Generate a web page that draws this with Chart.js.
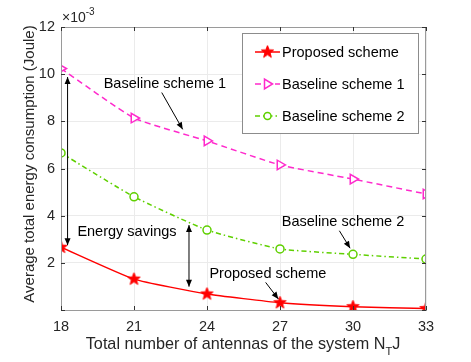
<!DOCTYPE html>
<html>
<head>
<meta charset="utf-8">
<script src="https://cdn.jsdelivr.net/npm/chart.js@4/dist/chart.umd.min.js"></script>
<style>
  html, body { margin: 0; padding: 0; background: #fff; }
  #wrap { width: 471px; height: 362px; }
</style>
</head>
<body>
<div id="wrap"><canvas id="energyChart" width="471" height="362"></canvas></div>
<script>
// Datos (unidades x10^-3 J)
const antennas = [18, 21, 24, 27, 30, 33];
const proposed = [2.66, 1.31, 0.68, 0.31, 0.14, 0.06];
const baseline1 = [10.24, 8.14, 7.17, 6.15, 5.55, 4.92];
const baseline2 = [6.66, 4.80, 3.39, 2.59, 2.36, 2.16];
const seriesNames = ['Proposed scheme', 'Baseline scheme 1', 'Baseline scheme 2'];
const yTicks = [0, 2, 4, 6, 8, 10, 12];

const FONT = '"Liberation Sans", Arial, Helvetica, sans-serif';
const TXT = '#262626';
const RED = '#ff0000';
const MAG = '#ff2acc';
const GRN = '#5fd000';

// Anotaciones (coordenadas en unidades de datos)
const notes = [
    { text: 'Baseline scheme 1', x: 22.27, y: 9.58, from: [22.14, 9.22], to: [23.0, 7.66] },
    { text: 'Baseline scheme 2', x: 29.59, y: 3.74, from: [29.44, 3.36], to: [29.88, 2.62] },
    { text: 'Proposed scheme', x: 26.5, y: 1.53, from: [26.41, 1.17], to: [26.93, 0.47] },
    { text: 'Energy savings', x: 20.71, y: 3.3 }
];
const doubleArrows = [
    { x: 18.27, y1: 9.88, y2: 2.75 },
    { x: 23.26, y1: 3.6, y2: 0.99 }
];

// Estrella de cinco puntas para el marcador
function makeStar(size, color) {
    const c = document.createElement('canvas');
    c.width = size; c.height = size;
    const g = c.getContext('2d');
    const cx = size / 2, cy = size / 2, R = size / 2 - 1, r = R * 0.42;
    g.beginPath();
    for (let i = 0; i < 10; i++) {
        const a = -Math.PI / 2 + i * Math.PI / 5;
        const rad = i % 2 === 0 ? R : r;
        g.lineTo(cx + rad * Math.cos(a), cy + rad * Math.sin(a));
    }
    g.closePath();
    g.fillStyle = color;
    g.fill();
    g.strokeStyle = color;
    g.lineWidth = 1;
    g.stroke();
    return c;
}
const starImg = makeStar(15, RED);

function arrowHead(ctx, x1, y1, x2, y2, len, w) {
    const a = Math.atan2(y2 - y1, x2 - x1);
    ctx.beginPath();
    ctx.moveTo(x2, y2);
    ctx.lineTo(x2 - len * Math.cos(a) + w * Math.sin(a), y2 - len * Math.sin(a) - w * Math.cos(a));
    ctx.lineTo(x2 - len * Math.cos(a) - w * Math.sin(a), y2 - len * Math.sin(a) + w * Math.cos(a));
    ctx.closePath();
    ctx.fill();
}

const extras = {
    id: 'extras',
    afterDraw(chart) {
        const ctx = chart.ctx;
        const xs = chart.scales.x, ys = chart.scales.y;
        const a = chart.chartArea;
        ctx.save();

        // caja y marcas de los ejes (hacia dentro)
        ctx.strokeStyle = '#9a9a9a';
        ctx.lineWidth = 1;
        ctx.strokeRect(a.left + 0.5, a.top + 0.5, a.right - a.left - 1, a.bottom - a.top);
        ctx.strokeStyle = '#333';
        ctx.beginPath();
        antennas.forEach(v => {
            const px = Math.round(xs.getPixelForValue(v)) + 0.5;
            ctx.moveTo(px, a.bottom); ctx.lineTo(px, a.bottom - 4);
            ctx.moveTo(px, a.top); ctx.lineTo(px, a.top + 4);
        });
        yTicks.forEach(v => {
            const py = Math.round(ys.getPixelForValue(v)) + 0.5;
            ctx.moveTo(a.left, py); ctx.lineTo(a.left + 4, py);
            ctx.moveTo(a.right, py); ctx.lineTo(a.right - 4, py);
        });
        ctx.stroke();

        // anotaciones
        ctx.fillStyle = '#000';
        ctx.strokeStyle = '#000';
        ctx.font = '14.5px ' + FONT;
        ctx.textAlign = 'center';
        ctx.textBaseline = 'middle';
        notes.forEach(n => {
            ctx.fillText(n.text, xs.getPixelForValue(n.x), ys.getPixelForValue(n.y));
            if (n.from) {
                const x1 = xs.getPixelForValue(n.from[0]), y1 = ys.getPixelForValue(n.from[1]);
                const x2 = xs.getPixelForValue(n.to[0]), y2 = ys.getPixelForValue(n.to[1]);
                ctx.beginPath(); ctx.moveTo(x1, y1); ctx.lineTo(x2, y2); ctx.stroke();
                arrowHead(ctx, x1, y1, x2, y2, 7, 3);
            }
        });
        doubleArrows.forEach(d => {
            const px = xs.getPixelForValue(d.x);
            const p1 = ys.getPixelForValue(d.y1), p2 = ys.getPixelForValue(d.y2);
            ctx.beginPath(); ctx.moveTo(px, p1); ctx.lineTo(px, p2); ctx.stroke();
            arrowHead(ctx, px, p2, px, p1, 7, 3);
            arrowHead(ctx, px, p1, px, p2, 7, 3);
        });

        // factor de escala x10^-3
        ctx.fillStyle = TXT;
        ctx.textAlign = 'left';
        ctx.font = '14px ' + FONT;
        ctx.fillText('\u00d710', a.left + 1, 18);
        const w10 = ctx.measureText('\u00d710').width;
        ctx.font = '10px ' + FONT;
        ctx.fillText('-3', a.left + 1 + w10, 12);

        // título eje x con subíndice
        ctx.font = '16.2px ' + FONT;
        const t1 = 'Total number of antennas of the system N';
        const wt1 = ctx.measureText(t1).width;
        ctx.font = '11px ' + FONT;
        const wT = ctx.measureText('T').width;
        ctx.font = '16.2px ' + FONT;
        const wJ = ctx.measureText('J').width;
        let sx = 243 - (wt1 + wT + wJ) / 2;
        ctx.fillText(t1, sx, 345);
        ctx.font = '11px ' + FONT;
        ctx.fillText('T', sx + wt1, 352);
        ctx.font = '16.2px ' + FONT;
        ctx.fillText('J', sx + wt1 + wT, 345);

        // título eje y
        ctx.save();
        ctx.font = '15px ' + FONT;
        ctx.translate(30, 164);
        ctx.rotate(-Math.PI / 2);
        ctx.textAlign = 'center';
        ctx.fillText('Average total energy consumption (Joule)', 0, 0);
        ctx.restore();

        // leyenda
        const lx = 242.5, ly = 33.5, lw = 176, lh = 100;
        ctx.fillStyle = '#fff';
        ctx.fillRect(lx, ly, lw, lh);
        ctx.strokeStyle = '#8c8c8c';
        ctx.setLineDash([]);
        ctx.strokeRect(lx, ly, lw, lh);
        const rows = [52, 84, 116];
        chart.data.datasets.forEach((ds, i) => {
            const y = rows[i];
            ctx.strokeStyle = ds.borderColor;
            ctx.lineWidth = 1.5;
            ctx.setLineDash(ds.borderDash || []);
            ctx.beginPath(); ctx.moveTo(255, y); ctx.lineTo(280, y); ctx.stroke();
            ctx.setLineDash([]);
            const cx = 267.5;
            if (i === 0) {
                ctx.drawImage(starImg, cx - 7.5, y - 7.5);
            } else if (i === 1) {
                ctx.beginPath();
                ctx.moveTo(cx + 5, y); ctx.lineTo(cx - 3, y - 5); ctx.lineTo(cx - 3, y + 5); ctx.closePath();
                ctx.fillStyle = '#fff'; ctx.fill(); ctx.stroke();
            } else {
                ctx.beginPath(); ctx.arc(cx, y, 3.5, 0, Math.PI * 2);
                ctx.fillStyle = '#fff'; ctx.fill(); ctx.stroke();
            }
            ctx.fillStyle = '#000';
            ctx.font = '14.5px ' + FONT;
            ctx.textAlign = 'left';
            ctx.fillText(seriesNames[i], 282, y + 1);
        });
        ctx.restore();
    }
};

function toPoints(values) {
    return antennas.map((x, i) => ({ x: x, y: values[i] }));
}

function renderChart() {
    const ctx = document.getElementById('energyChart').getContext('2d');
    new Chart(ctx, {
        type: 'line',
        data: {
            datasets: [
                {
                    label: seriesNames[0],
                    data: toPoints(proposed),
                    borderColor: RED,
                    backgroundColor: RED,
                    borderWidth: 1.5,
                    pointStyle: starImg,
                    tension: 0.15,
                    fill: false
                },
                {
                    label: seriesNames[1],
                    data: toPoints(baseline1),
                    borderColor: MAG,
                    backgroundColor: '#fff',
                    borderWidth: 1.5,
                    borderDash: [6, 4],
                    pointStyle: 'triangle',
                    pointRotation: 90,
                    pointRadius: 5.5,
                    pointBorderWidth: 1.5,
                    tension: 0.15,
                    fill: false
                },
                {
                    label: seriesNames[2],
                    data: toPoints(baseline2),
                    borderColor: GRN,
                    backgroundColor: '#fff',
                    borderWidth: 1.5,
                    borderDash: [5, 3, 1.5, 3],
                    pointStyle: 'circle',
                    pointRadius: 4,
                    pointBorderWidth: 1.5,
                    tension: 0.15,
                    fill: false
                }
            ]
        },
        options: {
            responsive: false,
            animation: false,
            layout: { padding: { left: 0, top: 27, right: 45, bottom: 0 } },
            plugins: { legend: { display: false }, tooltip: { enabled: false } },
            scales: {
                x: {
                    type: 'linear',
                    min: 18, max: 33,
                    afterBuildTicks: s => { s.ticks = antennas.map(v => ({ value: v })); },
                    afterFit: s => { s.height = 52; },
                    grid: { color: '#ebebeb', drawTicks: false },
                    border: { color: '#9a9a9a' },
                    ticks: { color: TXT, padding: 8, autoSkip: false, font: { family: FONT, size: 14.5 }, maxRotation: 0 }
                },
                y: {
                    min: 0, max: 12,
                    afterBuildTicks: s => { s.ticks = yTicks.map(v => ({ value: v })); },
                    afterFit: s => { s.width = 61; },
                    grid: { color: '#ebebeb', drawTicks: false },
                    border: { color: '#9a9a9a' },
                    ticks: {
                        color: TXT, padding: 6, autoSkip: false, font: { family: FONT, size: 14.5 },
                        callback: v => (v === 0 ? '' : v)
                    }
                }
            }
        },
        plugins: [extras]
    });
}

document.addEventListener('DOMContentLoaded', renderChart);
</script>
</body>
</html>
